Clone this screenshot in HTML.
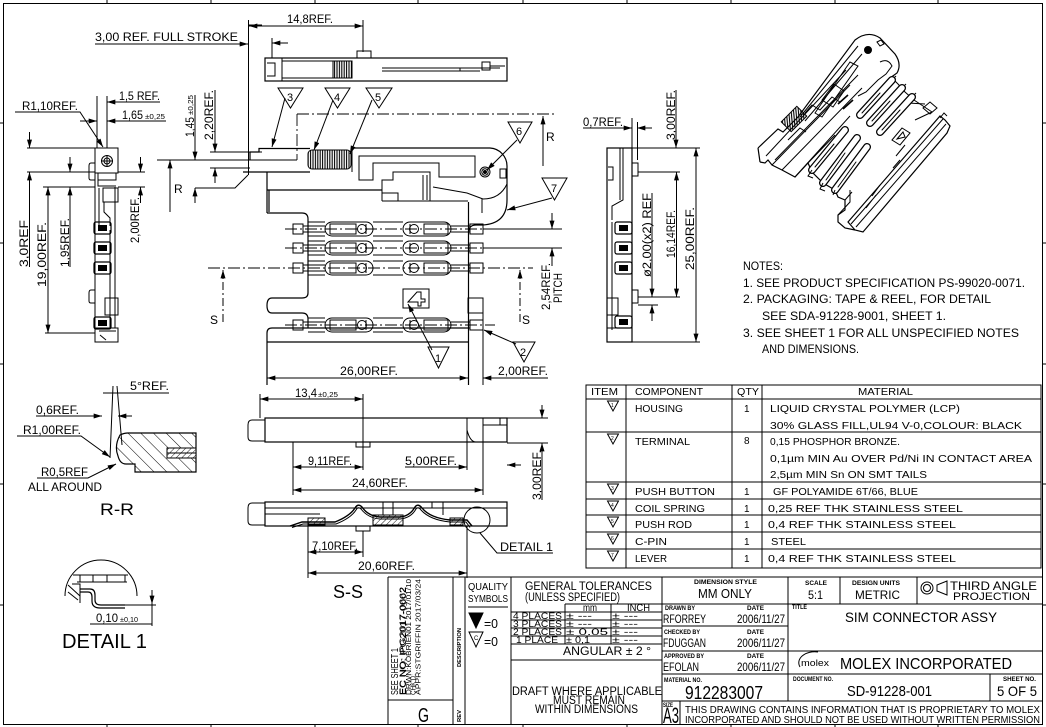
<!DOCTYPE html>
<html><head><meta charset="utf-8">
<style>
html,body{margin:0;padding:0;background:#fff;}
svg{display:block;}
text{font-family:"Liberation Sans",sans-serif;fill:#000;stroke:none;}
</style></head><body>
<svg xmlns="http://www.w3.org/2000/svg" width="1046" height="727" viewBox="0 0 1046 727">
<defs>
<marker id="a" viewBox="0 0 10 6" refX="10" refY="3" markerWidth="9" markerHeight="5" orient="auto-start-reverse" markerUnits="userSpaceOnUse"><path d="M0,0L10,3L0,6z" fill="#000"/></marker>
<pattern id="hr" width="9" height="9" patternUnits="userSpaceOnUse" patternTransform="rotate(-45)"><line x1="0" y1="0" x2="0" y2="9" stroke="#000" stroke-width="1"/></pattern>
<pattern id="hs" width="4" height="4" patternUnits="userSpaceOnUse" patternTransform="rotate(45)"><line x1="0" y1="0" x2="0" y2="4" stroke="#000" stroke-width="0.9"/></pattern>
<pattern id="sp" width="2.4" height="20" patternUnits="userSpaceOnUse"><line x1="1" y1="0" x2="1" y2="20" stroke="#000" stroke-width="1.1"/></pattern>
<pattern id="sp3" width="2.4" height="20" patternUnits="userSpaceOnUse" patternTransform="rotate(40)"><line x1="1" y1="0" x2="1" y2="20" stroke="#000" stroke-width="1.1"/></pattern>
</defs>
<rect width="1046" height="727" fill="#fff"/>
<g fill="none" stroke="#000" stroke-width="1">
<!-- frame -->
<rect x="3.5" y="3.5" width="1039" height="721"/>
<path d="M107,0V3M211,0V3M315,0V3M418,0V3M523,0V3M627,0V3M731,0V3M835,0V3M938,0V3M107,725V727M211,725V727M315,725V727M418,725V727M523,725V727M627,725V727M731,725V727M835,725V727M938,725V727M0,123H3M0,243H3M0,364H3M0,484H3M0,605H3M1043,123H1046M1043,243H1046M1043,364H1046M1043,484H1046M1043,605H1046"/>

<!-- ===== top-left side view ===== -->
<path d="M95,44H248" marker-end="url(#a)"/>
<path d="M248.5,20V175M248.5,25H262"/>
<path d="M15,112H80L103,147" marker-end="url(#a)"/>
<path d="M160,102H107" marker-end="url(#a)"/>
<path d="M166,121H107" marker-end="url(#a)"/>
<path d="M80,121H97" marker-end="url(#a)"/>
<path d="M97,96V148M107,96V148"/>
<path d="M29.5,132V148" marker-end="url(#a)"/>
<path d="M29.5,267V172" marker-end="url(#a)"/>
<path d="M48,187V333" marker-start="url(#a)" marker-end="url(#a)"/>
<path d="M70,157V172" marker-end="url(#a)"/>
<path d="M70,267V187" marker-end="url(#a)"/>
<path d="M140.5,157V172" marker-end="url(#a)"/>
<path d="M140.5,203V187" marker-end="url(#a)"/>
<path d="M27,148H95M27,172H95M118,172H145M43,187H95M118,187H145M45,333H95"/>
<!-- part -->
<rect x="95" y="148" width="23" height="25"/>
<circle cx="107" cy="161" r="5.5"/><circle cx="107" cy="161" r="3"/>
<path d="M101,161H113M107,155V167"/>
<path d="M95,163H91Q89,163 89,166V178Q89,180 91,180H95"/>
<path d="M98,173V180H116V173M98,180V186H116"/>
<path d="M95,173V342H118V328H95M115,187V328"/>
<rect x="103" y="188" width="15" height="14"/>
<path d="M99,188V226M104,202V212L110,218V226M110,230V328"/>
<g stroke-width="1.2">
<rect x="94" y="222" width="17" height="12" rx="2"/><rect x="94" y="242" width="17" height="12" rx="2"/><rect x="94" y="262" width="17" height="12" rx="2"/><rect x="94" y="317" width="17" height="12" rx="2"/>
</g>
<g fill="#000" stroke="none"><rect x="98" y="225" width="9" height="6"/><rect x="98" y="245" width="9" height="6"/><rect x="98" y="265" width="9" height="6"/><rect x="98" y="320" width="9" height="6"/></g>
<path d="M95,290H91Q89,290 89,293V301Q89,303 91,303H95"/>
<rect x="105" y="298" width="13" height="17"/>
<path d="M99,331H116M100,335L106,340"/>

<!-- middle dims 1,45 / 2,20 -->
<path d="M195,95V160" marker-end="url(#a)"/>
<path d="M195,203V188" marker-end="url(#a)"/>
<path d="M215,90V152" marker-end="url(#a)"/>
<path d="M215,183V168" marker-end="url(#a)"/>
<path d="M157,160H297M210,152H262M210,168H250M195,188H235L248,175"/>
<path d="M170,212V160" marker-end="url(#a)"/>

<!-- push view (top) -->
<rect x="265" y="58" width="242" height="23" stroke-width="1.2"/>
<path d="M282,58V81M267,63H275V76H267M282,61H352V78H282"/>
<rect x="333" y="61" width="19" height="17" fill="url(#sp)"/>
<rect x="357" y="51" width="14" height="7"/>
<path d="M382,68H500M382,71H480M460,68V71M490,66H505"/>
<rect x="482" y="62" width="8" height="8"/>
<path d="M249,26H363" marker-start="url(#a)" marker-end="url(#a)"/>
<path d="M363,20V52"/>
<path d="M288,43H272" marker-end="url(#a)"/>
<path d="M272,38V58"/>

<!-- balloons -->
<path d="M278,88H303L290.5,108Z M325,88H350L337.5,108Z M366,88H392L379,108Z M508,122H532L520,143Z M542,178H567L554.5,200Z M428,347H449L438.5,368Z M513,342H535L524,362Z"/>
<path d="M285,98L272,147" marker-end="url(#a)"/>
<path d="M333,100L314,150" marker-end="url(#a)"/>
<path d="M372,100L350,154" marker-end="url(#a)"/>
<path d="M517,140L487,170" marker-end="url(#a)"/>
<path d="M552,198L507,210" marker-end="url(#a)"/>
<path d="M432,350L408,304" marker-end="url(#a)"/>
<path d="M516,344L484,330" marker-end="url(#a)"/>

<!-- main housing -->
<path d="M250,152H259V148.5H310M250,152V160M243,172H310" stroke-width="1.2"/>
<rect x="308" y="150" width="43" height="19" rx="4" fill="url(#sp)"/>
<path d="M352,148V172"/>
<path d="M352,148H490A18,18 0 0 1 507,166V200Q507,224 482,225H476Q469,225 468.5,232" stroke-width="1.2"/>
<path d="M507,184Q500,199 483,199M433,187L467,193L483,199M482,199V213"/>
<path d="M359,156H475V177H439V163H373V180H359Z"/>
<path d="M382,201V180H393V172H430V201M423,175V200M427,175V200M382,193H398V201M382,201H468"/>
<circle cx="485" cy="172" r="5"/><circle cx="485" cy="172" r="3.2"/><circle cx="485" cy="172" r="1.5" fill="#000"/>
<rect x="500" y="169" width="6" height="9"/>
<path d="M267,172V213M267,190H382M269,190V212M267,213H302Q308,213 308,219V293Q308,298 302,298H272Q267,298 267,305.5Q267,313 272,313H302Q308,313 308,319V328" stroke-width="1.2"/>
<path d="M267,385V333Q267,328 272,328H468M267,342H468M468.5,202V385" stroke-width="1.2"/>
<!-- terminals -->
<g id="t1">
<rect x="293" y="224" width="10" height="10"/><path d="M303,226H325M303,232H325M308,222H325M308,236H325"/>
<rect x="325" y="222" width="48" height="14" rx="7"/><rect x="330" y="224" width="26" height="10"/><circle cx="362" cy="229" r="4.5"/><path d="M366,224V234"/>
<rect x="403" y="222" width="48" height="14" rx="7"/><rect x="424" y="224" width="24" height="10"/><circle cx="414" cy="229" r="4.5"/><path d="M410,224V234"/>
<path d="M373,222H403M373,236H403M451,226H470M451,232H470"/><rect x="470" y="224" width="13" height="10"/>
</g>
<use href="#t1" y="19"/>
<use href="#t1" y="39"/>
<use href="#t1" y="96"/>
<path d="M285,229H560M285,248H560M285,325H495" stroke-dasharray="12,3,2,3" stroke-width="0.9"/>
<!-- S line & R line -->
<path d="M208,268H533M297,114H557M297,114V160" stroke-dasharray="12,3,2,3" stroke-width="0.9"/>
<path d="M223,322V270" marker-end="url(#a)" stroke-dasharray="8,3,2,3"/>
<path d="M520,322V270" marker-end="url(#a)" stroke-dasharray="8,3,2,3"/>
<path d="M543,166V116" marker-end="url(#a)"/>
<rect x="403" y="289" width="26" height="19"/>
<path d="M408,302L417,292H421V299H425V302H421V306H418V302H408Z"/>
<rect x="468" y="298" width="15" height="15"/>
<!-- dims bottom main -->
<path d="M267,378H468" marker-start="url(#a)" marker-end="url(#a)"/>
<path d="M548,378H483" marker-end="url(#a)"/>
<path d="M483,313V385"/>
<path d="M483,229H562M483,248H562"/>
<path d="M552,213V229" marker-end="url(#a)"/>
<path d="M552,266V248" marker-end="url(#a)"/>

<!-- right side view -->
<path d="M583,128H632" marker-end="url(#a)"/>
<path d="M652,128H637" marker-end="url(#a)"/>
<path d="M632,118V148M637.5,122V160"/>
<path d="M676,90V148" marker-end="url(#a)"/>
<rect x="607" y="148" width="25" height="194" stroke-width="1.2"/>
<path d="M620,148V200M623,148V200L612,206V220M608,167H613V180H608M612,222V330"/>
<rect x="632" y="163" width="6" height="13"/><rect x="632" y="290" width="6" height="13"/>
<g stroke-width="1.2"><rect x="615" y="222" width="17" height="12" rx="2"/><rect x="615" y="242" width="17" height="12" rx="2"/><rect x="615" y="262" width="17" height="12" rx="2"/><rect x="615" y="316" width="17" height="12" rx="2"/></g>
<g fill="#000" stroke="none"><rect x="619" y="225" width="9" height="6"/><rect x="619" y="245" width="9" height="6"/><rect x="619" y="265" width="9" height="6"/><rect x="619" y="319" width="9" height="6"/></g>
<path d="M607,328H632M607,298H618V315H607"/>
<path d="M632,148H700M638,172H680M638,297H680M632,342H700M638,305H658"/>
<path d="M696,148V342" marker-start="url(#a)" marker-end="url(#a)"/>
<path d="M676.5,172V297" marker-start="url(#a)" marker-end="url(#a)"/>
<path d="M652,193V297" marker-end="url(#a)"/>
<path d="M652,321V305" marker-end="url(#a)"/>

<!-- 3D view -->
<g stroke-width="1">
<path d="M758,148L778,129L783,132L798,117L855,40Q868,30 880,38L895,54Q902,64 897,73L890,78" stroke-width="1.2"/>
<path d="M760,162L758,148M760,162L765,163L768,160L772,165L782,170L795,177L808,163L812,172L823,183L835,190L838,197L845,200L845,210L838,215L838,222L845,228L855,230" stroke-width="1.2"/>
<path d="M775,160L858,75M782,170L862,88M772,165L850,85M800,117L858,46M805,121L862,54M766,156L846,70M795,177L850,116M808,163L835,135"/>
<path d="M815,113L850,62L858,66L822,117ZM822,100L834,84L844,91L833,107Z"/>
<path d="M805,113L812,105L820,110L832,97L840,102M788,140L800,128L806,132"/>
<circle cx="868" cy="50" r="3.5" fill="#000"/>
<path d="M877,42L881,40L884,44L880,46Z"/>
<path d="M880,62Q888,58 892,66L886,74L878,80L866,92L858,96M892,78L898,84L905,92L914,100L932,112"/>
<rect x="783" y="112" width="22" height="14" fill="url(#sp3)" transform="rotate(-45 794 119)"/>
<path d="M838,104L848,95M843,109L853,100" stroke-width="1.6"/>
<path d="M945,120L950,126L947,133L863,232L855,230L848,222L940,116Z" stroke-width="1.2"/>
<path d="M851,224L943,119M856,227L946,124M905,145L896,156M876,195L866,208M880,185L872,196M900,160L893,168"/>
<path d="M923,108L930,102L937,108L930,114ZM940,118L944,113L947,116"/>
<path d="M892,140L902,128L910,133L900,145ZM897,139L903,132L905,137Z"/>
<path d="M892,80L896,76M902,88L906,84M912,97L916,93M908,103L925,104M915,120L932,112"/>
<g stroke-linecap="round">
<path d="M860,115L892,80M870,123L902,88M880,132L912,97M812,170L845,130M823,183L857,138M835,190L867,147" stroke-width="8"/>
<path d="M860,115L892,80M870,123L902,88M880,132L912,97M812,170L845,130M823,183L857,138M835,190L867,147" stroke-width="5.5" stroke="#fff"/>
<path d="M862,113L880,93M872,121L890,101M882,130L900,110M815,167L834,144M826,180L845,153M838,187L856,162"/>
</g>
<path d="M845,200L852,192M838,215L850,202L850,190M812,170L808,176L813,178M823,183L820,189L825,191M835,190L833,195"/>
</g>

<!-- table -->
<rect x="586" y="385" width="455" height="183"/>
<path d="M626,385V568M732,385V568M762,385V568"/>
<path d="M586,399H1041M586,432H1041M586,482H1041M586,499H1041M586,515H1041M586,532H1041M586,549H1041"/>
<path d="M607.5,401H618.5L613,411ZM607.5,434H618.5L613,444ZM607.5,484H618.5L613,494ZM607.5,501H618.5L613,511ZM607.5,517H618.5L613,527ZM607.5,534H618.5L613,544ZM607.5,551H618.5L613,561Z"/>

<!-- R-R section -->
<path d="M103,393H169M113,386L110,458M117,386L122,445"/>
<path d="M36,416H102" marker-end="url(#a)"/>
<path d="M132,416H118" marker-end="url(#a)"/>
<path d="M17,436H81L110,457" marker-end="url(#a)"/>
<path d="M120,435Q124,433 128,433H196V472H135V464H126Q120,464 118,456Q114,446 120,435Z" fill="url(#hr)" stroke-width="1.2"/>
<rect x="167" y="448" width="29" height="10" fill="#fff"/>
<rect x="167" y="448" width="29" height="10" fill="url(#hs)"/>
<path d="M167,453H196"/>
<path d="M37,478H88L116,464" marker-end="url(#a)"/>

<!-- S-S top -->
<path d="M265,420H252Q248,420 248,425V437Q248,441 252,441H265"/>
<rect x="265" y="418" width="242" height="24" stroke-width="1.2"/>
<path d="M483,418V442M483,425H500V418M500,425H507M467,430Q470,442 476,442"/>
<rect x="356" y="442" width="14" height="5"/>
<path d="M260,399H363" marker-start="url(#a)" marker-end="url(#a)"/>
<path d="M260,394V418M363,394V470"/>
<path d="M293,467H363" marker-start="url(#a)" marker-end="url(#a)"/>
<path d="M405,467H467" marker-end="url(#a)"/>
<path d="M293,490H483" marker-start="url(#a)" marker-end="url(#a)"/>
<path d="M293,442V495M467,418V470M483,442V495"/>
<path d="M507,418H548M507,443H548"/>
<path d="M542,405V418" marker-end="url(#a)"/>
<path d="M542,500V443" marker-end="url(#a)"/>
<path d="M521,465H507" marker-end="url(#a)"/>
<!-- S-S bottom -->
<path d="M265,503H252Q248,503 248,508V521Q248,525 252,525H265"/>
<rect x="265" y="502" width="242" height="24" stroke-width="1.2"/>
<path d="M265,508H507M265,514H320M383,502V515M393,502V515M432,502V508M443,502V515"/>
<rect x="308" y="518" width="17" height="7" fill="url(#hs)"/>
<rect x="373" y="515" width="30" height="10" fill="url(#hs)"/>
<rect x="450" y="518" width="13" height="7" fill="url(#hs)"/>
<path d="M290,526L302,522H335Q350,516 355,508Q358,503 362,507Q368,516 380,517H400Q410,516 415,507Q418,503 422,508Q430,518 450,520H467L472,526" stroke-width="1.4"/>
<path d="M292,527.5L303,524H336Q351,518 356,510Q358,506 361,509Q368,518 380,519H400Q411,518 416,509Q418,506 421,510Q430,520 450,522H466L470,527.5"/>
<rect x="356" y="526" width="14" height="5"/>
<circle cx="477" cy="520" r="13"/>
<path d="M480,533L497,553H553"/>
<path d="M308,552H363" marker-start="url(#a)" marker-end="url(#a)"/>
<path d="M308,573H467" marker-start="url(#a)" marker-end="url(#a)"/>
<path d="M308,526V578M363,531V557M467,526V578"/>

<!-- Detail 1 -->
<path d="M65,596A36,36 0 0 1 137,596"/>
<path d="M73,575H128M77,582H127M80,575V582M93,575V582M107,575V582M125,575V582M68,585L80,596M68,592L78,600M72,584L80,584V603"/>
<path d="M80,589H90Q95,589 95,595V600Q95,605 101,605H125" stroke-width="1.2"/>
<path d="M80,592H88Q92,592 92,597V601Q92,608 100,608H125" stroke-width="1.2"/>
<path d="M90,624H152M152,590V626M125,605H156"/>
<path d="M152,592V604" marker-end="url(#a)"/>

<!-- title block lines -->
<path d="M388,577H1042M388,577V725M453,577V725M465,577V725M511,577V725M388,700H453M468,607H508"/>
<path d="M565,604H662M511,612H662M511,620H662M511,628H662M511,636H662M511,644H662M511,660H662M565,604V644M611,604V644"/>
<path d="M662,577V725M680,701V725M788,577V701M840,577V604M917,577V604M990,674V701"/>
<path d="M662,604H1042M662,626H788M662,651H1042M662,674H1042M662,701H1042"/>
<path d="M469,613H483L476,628Z" fill="#000"/>
<path d="M469,632H483L476,647Z"/>
<circle cx="927" cy="588" r="6"/><circle cx="927" cy="588" r="3.5"/>
<path d="M937,585L947,581V595L937,591Z"/>
<path d="M800,667A16,11 0 0 1 818,652"/>
</g>

<!-- ===== TEXT ===== -->
<g font-size="11.5">
<text x="95" y="41" textLength="143" lengthAdjust="spacingAndGlyphs">3,00  REF.  FULL  STROKE</text>
<text x="22" y="110" textLength="56" lengthAdjust="spacingAndGlyphs">R1,10REF.</text>
<text x="119" y="100" textLength="41" lengthAdjust="spacingAndGlyphs">1,5 REF.</text>
<text x="122" y="119" textLength="21" lengthAdjust="spacingAndGlyphs">1,65</text>
<text x="145" y="119" font-size="7.5" textLength="20" lengthAdjust="spacingAndGlyphs">±0,25</text>
<text transform="translate(28,267) rotate(-90)" textLength="47" lengthAdjust="spacingAndGlyphs">3,0REF</text>
<text transform="translate(46,287) rotate(-90)" textLength="65" lengthAdjust="spacingAndGlyphs">19,00REF.</text>
<text transform="translate(69,267) rotate(-90)" textLength="49" lengthAdjust="spacingAndGlyphs">1,95REF.</text>
<text transform="translate(139,243) rotate(-90)" textLength="46" lengthAdjust="spacingAndGlyphs">2,00REF.</text>
<text transform="translate(194,137) rotate(-90)" textLength="20" lengthAdjust="spacingAndGlyphs">1,45</text>
<text transform="translate(193,115) rotate(-90)" font-size="7.5" textLength="20" lengthAdjust="spacingAndGlyphs">±0,25</text>
<text transform="translate(213,140) rotate(-90)" textLength="50" lengthAdjust="spacingAndGlyphs">2,20REF.</text>
<text x="174" y="193" font-size="12">R</text>
<text x="287" y="23" textLength="46" lengthAdjust="spacingAndGlyphs">14,8REF.</text>
<text x="287" y="101" font-size="11">3</text>
<text x="334" y="101" font-size="11">4</text>
<text x="375" y="101" font-size="11">5</text>
<text x="516" y="135" font-size="11">6</text>
<text x="551" y="192" font-size="11">7</text>
<text x="435" y="362" font-size="11">1</text>
<text x="520" y="356" font-size="11">2</text>
<text x="546" y="141" font-size="12">R</text>
<text x="210" y="324" font-size="12">S</text>
<text x="522" y="324" font-size="12">S</text>
<text x="340" y="375" textLength="58" lengthAdjust="spacingAndGlyphs">26,00REF.</text>
<text x="498" y="375" textLength="50" lengthAdjust="spacingAndGlyphs">2,00REF.</text>
<text transform="translate(550,310) rotate(-90)" textLength="47" lengthAdjust="spacingAndGlyphs">2,54REF.</text>
<text transform="translate(562,303) rotate(-90)" textLength="30" lengthAdjust="spacingAndGlyphs">PITCH</text>
<text x="583" y="126" textLength="40" lengthAdjust="spacingAndGlyphs">0,7REF.</text>
<text transform="translate(675,140) rotate(-90)" textLength="50" lengthAdjust="spacingAndGlyphs">3,00REF.</text>
<text transform="translate(694,270) rotate(-90)" textLength="63" lengthAdjust="spacingAndGlyphs">25,00REF.</text>
<text transform="translate(675,258) rotate(-90)" textLength="48" lengthAdjust="spacingAndGlyphs">16,14REF.</text>
<text transform="translate(651,277) rotate(-90)" textLength="84" lengthAdjust="spacingAndGlyphs">ø2,00(x2) REF</text>
<!-- notes -->
<text x="743" y="270" textLength="40" lengthAdjust="spacingAndGlyphs">NOTES:</text>
<text x="743" y="287" textLength="282" lengthAdjust="spacingAndGlyphs">1. SEE PRODUCT SPECIFICATION PS-99020-0071.</text>
<text x="743" y="303" textLength="248" lengthAdjust="spacingAndGlyphs">2. PACKAGING: TAPE &amp; REEL, FOR DETAIL</text>
<text x="762" y="320" textLength="184" lengthAdjust="spacingAndGlyphs">SEE SDA-91228-9001, SHEET 1.</text>
<text x="743" y="337" textLength="276" lengthAdjust="spacingAndGlyphs">3. SEE SHEET 1 FOR ALL UNSPECIFIED NOTES</text>
<text x="762" y="353" textLength="97" lengthAdjust="spacingAndGlyphs">AND DIMENSIONS.</text>
<!-- R-R -->
<text x="130" y="390" textLength="39" lengthAdjust="spacingAndGlyphs">5°REF.</text>
<text x="36" y="414" textLength="43" lengthAdjust="spacingAndGlyphs">0,6REF.</text>
<text x="23" y="434" textLength="58" lengthAdjust="spacingAndGlyphs">R1,00REF.</text>
<text x="41" y="476" textLength="47" lengthAdjust="spacingAndGlyphs">R0,5REF</text>
<text x="28" y="491" textLength="74" lengthAdjust="spacingAndGlyphs">ALL  AROUND</text>
<text x="100" y="515" font-size="16.5" textLength="34" lengthAdjust="spacingAndGlyphs">R-R</text>
<!-- S-S -->
<text x="295" y="397" textLength="22" lengthAdjust="spacingAndGlyphs">13,4</text>
<text x="318" y="397" font-size="7.5" textLength="20" lengthAdjust="spacingAndGlyphs">±0,25</text>
<text x="308" y="465" textLength="44" lengthAdjust="spacingAndGlyphs">9,11REF.</text>
<text x="405" y="465" textLength="52" lengthAdjust="spacingAndGlyphs">5,00REF.</text>
<text x="352" y="487" textLength="56" lengthAdjust="spacingAndGlyphs">24,60REF.</text>
<text transform="translate(541,500) rotate(-90)" textLength="50" lengthAdjust="spacingAndGlyphs">3,00REF.</text>
<text x="500" y="551" textLength="53" lengthAdjust="spacingAndGlyphs">DETAIL  1</text>
<text x="312" y="550" textLength="46" lengthAdjust="spacingAndGlyphs">7,10REF.</text>
<text x="358" y="570" textLength="57" lengthAdjust="spacingAndGlyphs">20,60REF.</text>
<text x="333" y="598" font-size="18.5" textLength="30" lengthAdjust="spacingAndGlyphs">S-S</text>
<!-- detail 1 -->
<text x="96" y="622" textLength="22" lengthAdjust="spacingAndGlyphs">0,10</text>
<text x="120" y="622" font-size="7.5" textLength="18" lengthAdjust="spacingAndGlyphs">±0,10</text>
<text x="62" y="648" font-size="20" textLength="85" lengthAdjust="spacingAndGlyphs">DETAIL  1</text>
</g>

<!-- table text -->
<g font-size="10">
<text x="591" y="395" textLength="27" lengthAdjust="spacingAndGlyphs">ITEM</text>
<text x="635" y="395" textLength="68" lengthAdjust="spacingAndGlyphs">COMPONENT</text>
<text x="737" y="395" textLength="22" lengthAdjust="spacingAndGlyphs">QTY</text>
<text x="858" y="395" textLength="55" lengthAdjust="spacingAndGlyphs">MATERIAL</text>
<text x="635" y="412" textLength="48" lengthAdjust="spacingAndGlyphs">HOUSING</text>
<text x="744" y="412">1</text>
<text x="770" y="412" textLength="190" lengthAdjust="spacingAndGlyphs">LIQUID CRYSTAL POLYMER (LCP)</text>
<text x="770" y="429" textLength="252" lengthAdjust="spacingAndGlyphs">30% GLASS FILL,UL94 V-0,COLOUR: BLACK</text>
<text x="635" y="445" textLength="55" lengthAdjust="spacingAndGlyphs">TERMINAL</text>
<text x="744" y="444">8</text>
<text x="770" y="445" textLength="130" lengthAdjust="spacingAndGlyphs">0,15 PHOSPHOR BRONZE.</text>
<text x="770" y="462" textLength="262" lengthAdjust="spacingAndGlyphs">0,1µm MIN Au OVER Pd/Ni IN CONTACT AREA</text>
<text x="770" y="478" textLength="157" lengthAdjust="spacingAndGlyphs">2,5µm MIN Sn ON SMT TAILS</text>
<text x="635" y="495" textLength="80" lengthAdjust="spacingAndGlyphs">PUSH BUTTON</text>
<text x="744" y="495">1</text>
<text x="773" y="495" textLength="145" lengthAdjust="spacingAndGlyphs">GF POLYAMIDE 6T/66, BLUE</text>
<text x="635" y="512" textLength="70" lengthAdjust="spacingAndGlyphs">COIL SPRING</text>
<text x="744" y="512">1</text>
<text x="768" y="512" textLength="195" lengthAdjust="spacingAndGlyphs">0,25 REF THK STAINLESS STEEL</text>
<text x="635" y="528" textLength="57" lengthAdjust="spacingAndGlyphs">PUSH ROD</text>
<text x="744" y="528">1</text>
<text x="768" y="528" textLength="188" lengthAdjust="spacingAndGlyphs">0,4 REF THK STAINLESS STEEL</text>
<text x="635" y="545" textLength="32" lengthAdjust="spacingAndGlyphs">C-PIN</text>
<text x="744" y="545">1</text>
<text x="771" y="545" textLength="35" lengthAdjust="spacingAndGlyphs">STEEL</text>
<text x="635" y="562" textLength="32" lengthAdjust="spacingAndGlyphs">LEVER</text>
<text x="744" y="562">1</text>
<text x="768" y="562" textLength="188" lengthAdjust="spacingAndGlyphs">0,4 REF THK STAINLESS STEEL</text>
<g font-size="5">
<text x="611" y="407">1</text><text x="611" y="440">2</text><text x="611" y="490">3</text><text x="611" y="507">4</text><text x="611" y="523">5</text><text x="611" y="540">6</text><text x="611" y="557">7</text>
</g>
</g>

<!-- revision block -->
<g font-size="10">
<text transform="translate(398,695) rotate(-90)" textLength="47" lengthAdjust="spacingAndGlyphs">SEE SHEET 1</text>
<text transform="translate(405.5,695) rotate(-90)" font-size="8" textLength="108" lengthAdjust="spacingAndGlyphs">EC NO: IPG2017-0662</text>
<text transform="translate(406,695) rotate(-90)" font-size="8" textLength="108" lengthAdjust="spacingAndGlyphs">EC NO:  PG2017-0002</text>
<text transform="translate(411,695) rotate(-90)" font-size="7.5" textLength="116" lengthAdjust="spacingAndGlyphs">DRWN:KOBRIEN01    2017/01/10</text>
<text transform="translate(415.5,695) rotate(-90)" font-size="7.5" textLength="21" lengthAdjust="spacingAndGlyphs">CHK'D:</text>
<text transform="translate(420.5,695) rotate(-90)" font-size="7.5" textLength="116" lengthAdjust="spacingAndGlyphs">APPR:STGRIFFIN    2017/03/24</text>
<text transform="translate(461,667) rotate(-90)" font-size="5.5" font-weight="bold" textLength="39" lengthAdjust="spacingAndGlyphs">DESCRIPTION</text>
<text transform="translate(461,722) rotate(-90)" font-size="5.5" font-weight="bold" textLength="12" lengthAdjust="spacingAndGlyphs">REV</text>
<text x="418" y="722" font-size="20" textLength="11" lengthAdjust="spacingAndGlyphs">G</text>
<text x="468" y="590" textLength="40" lengthAdjust="spacingAndGlyphs">QUALITY</text>
<text x="468" y="602" textLength="40" lengthAdjust="spacingAndGlyphs">SYMBOLS</text>
<text x="484" y="628" font-size="13" textLength="14" lengthAdjust="spacingAndGlyphs">=0</text>
<text x="484" y="646" font-size="13" textLength="14" lengthAdjust="spacingAndGlyphs">=0</text>
<text x="474" y="640" font-size="6">C</text>
</g>
<!-- tolerances -->
<g font-size="11.5">
<text x="525" y="590" textLength="127" lengthAdjust="spacingAndGlyphs">GENERAL  TOLERANCES</text>
<text x="525" y="601" textLength="95" lengthAdjust="spacingAndGlyphs">(UNLESS  SPECIFIED)</text>
<text x="583" y="611" font-size="10" textLength="14" lengthAdjust="spacingAndGlyphs">mm</text>
<text x="627" y="611" font-size="10" textLength="23" lengthAdjust="spacingAndGlyphs">INCH</text>
<g font-size="9.5">
<text x="513" y="619" textLength="49" lengthAdjust="spacingAndGlyphs">4 PLACES</text>
<text x="566" y="619" textLength="26" lengthAdjust="spacingAndGlyphs">± ---</text>
<text x="612" y="619" textLength="26" lengthAdjust="spacingAndGlyphs">± ---</text>
<text x="513" y="627" textLength="49" lengthAdjust="spacingAndGlyphs">3 PLACES</text>
<text x="566" y="627" textLength="26" lengthAdjust="spacingAndGlyphs">± ---</text>
<text x="612" y="627" textLength="26" lengthAdjust="spacingAndGlyphs">± ---</text>
<text x="513" y="635" textLength="49" lengthAdjust="spacingAndGlyphs">2 PLACES</text>
<text x="566" y="635" textLength="42" lengthAdjust="spacingAndGlyphs">± 0.05</text>
<text x="612" y="635" textLength="26" lengthAdjust="spacingAndGlyphs">± ---</text>
<text x="516" y="643" textLength="42" lengthAdjust="spacingAndGlyphs">1 PLACE</text>
<text x="566" y="643" textLength="24" lengthAdjust="spacingAndGlyphs">± 0,1</text>
<text x="612" y="643" textLength="26" lengthAdjust="spacingAndGlyphs">± ---</text>
</g>
<text x="563" y="655" textLength="88" lengthAdjust="spacingAndGlyphs">ANGULAR ± 2 °</text>
<text x="512" y="695" textLength="150" lengthAdjust="spacingAndGlyphs">DRAFT  WHERE  APPLICABLE</text>
<text x="553" y="704" textLength="72" lengthAdjust="spacingAndGlyphs">MUST  REMAIN</text>
<text x="535" y="713" textLength="103" lengthAdjust="spacingAndGlyphs">WITHIN  DIMENSIONS</text>
</g>
<!-- drawn block -->
<g font-size="6" font-weight="bold">
<text x="694" y="584" textLength="63" lengthAdjust="spacingAndGlyphs">DIMENSION STYLE</text>
<text x="665" y="610" textLength="30" lengthAdjust="spacingAndGlyphs">DRAWN BY</text>
<text x="747" y="610" textLength="17" lengthAdjust="spacingAndGlyphs">DATE</text>
<text x="664" y="634" textLength="36" lengthAdjust="spacingAndGlyphs">CHECKED BY</text>
<text x="747" y="634" textLength="17" lengthAdjust="spacingAndGlyphs">DATE</text>
<text x="664" y="658" textLength="40" lengthAdjust="spacingAndGlyphs">APPROVED BY</text>
<text x="747" y="658" textLength="17" lengthAdjust="spacingAndGlyphs">DATE</text>
<text x="664" y="682" textLength="38" lengthAdjust="spacingAndGlyphs">MATERIAL NO.</text>
<text x="663" y="707" textLength="10" lengthAdjust="spacingAndGlyphs">SIZE</text>
<text x="805" y="585" textLength="22" lengthAdjust="spacingAndGlyphs">SCALE</text>
<text x="852" y="585" textLength="48" lengthAdjust="spacingAndGlyphs">DESIGN UNITS</text>
<text x="792" y="609" textLength="15" lengthAdjust="spacingAndGlyphs">TITLE</text>
<text x="793" y="681" textLength="40" lengthAdjust="spacingAndGlyphs">DOCUMENT NO.</text>
<text x="1003" y="681" textLength="33" lengthAdjust="spacingAndGlyphs">SHEET NO.</text>
</g>
<g font-size="12">
<text x="698" y="598" font-size="13" textLength="54" lengthAdjust="spacingAndGlyphs">MM ONLY</text>
<text x="663" y="623" textLength="43" lengthAdjust="spacingAndGlyphs">RFORREY</text>
<text x="737" y="623" textLength="48" lengthAdjust="spacingAndGlyphs">2006/11/27</text>
<text x="663" y="647" textLength="43" lengthAdjust="spacingAndGlyphs">FDUGGAN</text>
<text x="737" y="647" textLength="48" lengthAdjust="spacingAndGlyphs">2006/11/27</text>
<text x="663" y="671" textLength="36" lengthAdjust="spacingAndGlyphs">EFOLAN</text>
<text x="737" y="671" textLength="48" lengthAdjust="spacingAndGlyphs">2006/11/27</text>
<text x="685" y="699" font-size="18" textLength="78" lengthAdjust="spacingAndGlyphs">912283007</text>
<text x="663" y="723" font-size="22" textLength="16" lengthAdjust="spacingAndGlyphs">A3</text>
<text x="685" y="713" font-size="10" textLength="355" lengthAdjust="spacingAndGlyphs">THIS DRAWING CONTAINS INFORMATION THAT IS PROPRIETARY TO MOLEX</text>
<text x="685" y="723" font-size="10" textLength="355" lengthAdjust="spacingAndGlyphs">INCORPORATED AND SHOULD NOT BE USED WITHOUT WRITTEN PERMISSION</text>
<text x="808" y="599" textLength="15" lengthAdjust="spacingAndGlyphs">5:1</text>
<text x="855" y="599" textLength="45" lengthAdjust="spacingAndGlyphs">METRIC</text>
<text x="950" y="590" textLength="87" lengthAdjust="spacingAndGlyphs">THIRD  ANGLE</text>
<text x="953" y="600" font-size="11" textLength="77" lengthAdjust="spacingAndGlyphs">PROJECTION</text>
<text x="845" y="622" font-size="14" textLength="152" lengthAdjust="spacingAndGlyphs">SIM  CONNECTOR  ASSY</text>
<text x="801" y="666" font-size="9" textLength="28" lengthAdjust="spacingAndGlyphs">molex</text>
<text x="840" y="669" font-size="16" textLength="172" lengthAdjust="spacingAndGlyphs">MOLEX  INCORPORATED</text>
<text x="847" y="696" font-size="15" textLength="85" lengthAdjust="spacingAndGlyphs">SD-91228-001</text>
<text x="997" y="696" font-size="14" textLength="40" lengthAdjust="spacingAndGlyphs">5 OF 5</text>
</g>
</svg>
</body></html>
